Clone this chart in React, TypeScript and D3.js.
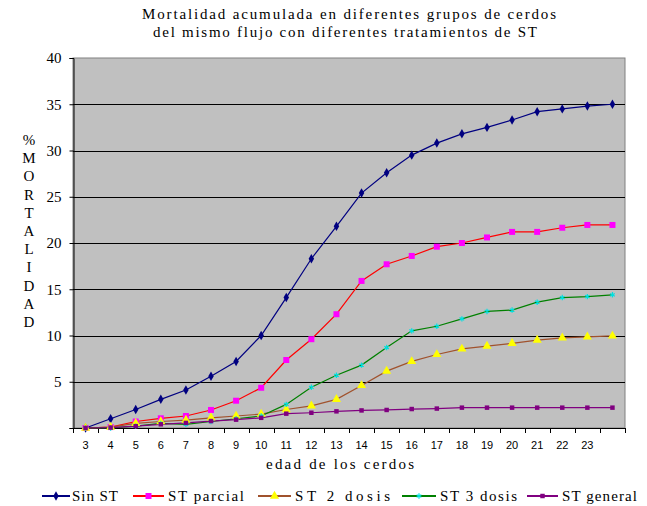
import { useEffect, useRef } from "react";
import * as d3 from "d3";

// edad de los cerdos (semanas)
const ages = [3, 4, 5, 6, 7, 8, 9, 10, 11, 12, 13, 14, 15, 16, 17, 18, 19, 20, 21, 22, 23, 24];
const ageLabels = ["3", "4", "5", "6", "7", "8", "9", "10", "11", "12", "13", "14", "15", "16", "17", "18", "19", "20", "21", "22", "23", ""];

const sinST = [0, 1.0, 2.0, 3.1, 4.1, 5.6, 7.2, 10.0, 14.1, 18.3, 21.8, 25.4, 27.6, 29.5, 30.8, 31.8, 32.5, 33.3, 34.2, 34.5, 34.8, 35.0];
const stParcial = [0, 0.1, 0.7, 1.05, 1.3, 1.95, 2.95, 4.35, 7.35, 9.6, 12.3, 15.9, 17.7, 18.6, 19.6, 20.0, 20.6, 21.2, 21.2, 21.65, 21.95, 21.95];
const st2Dosis = [0, 0.1, 0.5, 0.7, 0.85, 1.1, 1.3, 1.5, 2.0, 2.4, 3.1, 4.6, 6.15, 7.2, 7.95, 8.55, 8.85, 9.15, 9.5, 9.75, 9.85, 9.95];
const st3Dosis = [0, 0, 0.2, 0.5, 0.4, 0.7, 1.0, 1.3, 2.55, 4.4, 5.7, 6.8, 8.7, 10.5, 11.0, 11.8, 12.6, 12.75, 13.6, 14.1, 14.2, 14.4];
const stGeneral = [0, 0.05, 0.2, 0.4, 0.55, 0.75, 0.9, 1.1, 1.55, 1.65, 1.8, 1.9, 1.95, 2.05, 2.1, 2.2, 2.2, 2.2, 2.2, 2.2, 2.2, 2.2];

const yTicks = [0, 5, 10, 15, 20, 25, 30, 35, 40];

const series = [
  { name: "Sin ST", values: sinST, line: "#000080", fill: "#000080", stroke: "none", symbol: d3.symbolDiamond, size: 26, lx: 42, lx2: 70, tx: 72, tw: 46 },
  { name: "ST parcial", values: stParcial, line: "#ff0000", fill: "#ff00ff", stroke: "none", symbol: d3.symbolSquare, size: 36, lx: 133, lx2: 164, tx: 168, tw: 76 },
  { name: "ST 2 dosis", values: st2Dosis, line: "#a0522d", fill: "#ffff00", stroke: "none", symbol: d3.symbolTriangle, size: 36, lx: 258, lx2: 291, tx: 295, tw: 95 },
  { name: "ST 3 dosis", values: st3Dosis, line: "#008000", fill: "none", stroke: "#00e0e0", symbol: d3.symbolAsterisk, size: 20, lx: 402, lx2: 436, tx: 440, tw: 77 },
  { name: "ST general", values: stGeneral, line: "#800080", fill: "#800080", stroke: "none", symbol: d3.symbolSquare, size: 20, lx: 527, lx2: 558, tx: 562, tw: 75 },
];

const serif = "Liberation Serif";

export default function App() {
  const svgRef = useRef<SVGSVGElement>(null);

  useEffect(() => {
    if (!svgRef.current) return;
    const svg = d3.select(svgRef.current);
    svg.selectAll("*").remove();

    const plot = { left: 73, right: 625, top: 58, bottom: 428 };

    const x = d3.scaleBand<number>().domain(ages).range([plot.left, plot.right]);
    const y = d3.scaleLinear().domain([0, 40]).range([plot.bottom, plot.top]);

    // title
    const title = svg.append("g")
      .attr("font-family", serif)
      .attr("font-size", 15)
      .attr("fill", "#000");
    title.append("text").attr("x", 142).attr("y", 19)
      .attr("textLength", 414).attr("lengthAdjust", "spacing")
      .text("Mortalidad acumulada en diferentes grupos de cerdos");
    title.append("text").attr("x", 153).attr("y", 37)
      .attr("textLength", 384).attr("lengthAdjust", "spacing")
      .text("del mismo flujo con diferentes tratamientos de ST");

    // plot area
    svg.append("rect")
      .attr("x", plot.left).attr("y", plot.top)
      .attr("width", plot.right - plot.left).attr("height", plot.bottom - plot.top)
      .attr("fill", "#c0c0c0").attr("stroke", "#808080").attr("stroke-width", 1);

    // gridlines
    svg.append("g").selectAll("line")
      .data(yTicks.filter((t) => t > 0 && t < 40))
      .join("line")
      .attr("x1", plot.left).attr("x2", plot.right)
      .attr("y1", (d) => Math.round(y(d)) + 0.5).attr("y2", (d) => Math.round(y(d)) + 0.5)
      .attr("stroke", "#000").attr("stroke-width", 1.2);

    // y axis
    const yAxis = svg.append("g")
      .attr("transform", `translate(${plot.left + 0.5},0)`)
      .call(d3.axisLeft(y).tickValues(yTicks).tickSize(4).tickFormat((d) => (d === 0 ? "" : String(d))));
    yAxis.select(".domain").attr("stroke", "#000");
    yAxis.selectAll("text")
      .attr("font-family", serif)
      .attr("font-size", 15)
      .attr("fill", "#000")
      .attr("x", -12);

    // x axis
    const bounds = ages.map((a) => x(a) as number).concat([plot.right]);
    svg.append("line")
      .attr("x1", plot.left).attr("x2", plot.right)
      .attr("y1", plot.bottom + 0.5).attr("y2", plot.bottom + 0.5)
      .attr("stroke", "#000");
    svg.append("g").selectAll("line")
      .data(bounds)
      .join("line")
      .attr("x1", (d) => Math.round(d) + 0.5).attr("x2", (d) => Math.round(d) + 0.5)
      .attr("y1", plot.bottom).attr("y2", plot.bottom + 5)
      .attr("stroke", "#000");
    svg.append("g").selectAll("text")
      .data(ages)
      .join("text")
      .attr("x", (d) => (x(d) as number) + x.bandwidth() / 2)
      .attr("y", 449)
      .attr("text-anchor", "middle")
      .attr("font-family", "Liberation Sans")
      .attr("font-size", 11)
      .attr("fill", "#000")
      .text((_, i) => ageLabels[i]);

    svg.append("text")
      .attr("x", 266).attr("y", 469)
      .attr("font-family", serif).attr("font-size", 15)
      .attr("textLength", 148).attr("lengthAdjust", "spacing")
      .text("edad de los cerdos");

    // y axis title, stacked letters
    const yTitle = "%MORTALIDAD".split("");
    svg.append("g").selectAll("text")
      .data(yTitle)
      .join("text")
      .attr("x", 29)
      .attr("y", (_, i) => 145 + i * 18.2)
      .attr("text-anchor", "middle")
      .attr("font-family", serif)
      .attr("font-size", 15)
      .attr("fill", "#000")
      .text((d) => d);

    // series
    const cx = (i: number) => (x(ages[i]) as number) + x.bandwidth() / 2;
    series.forEach((s) => {
      const line = d3.line<number>()
        .x((_, i) => cx(i))
        .y((d) => y(d));
      svg.append("path")
        .datum(s.values)
        .attr("fill", "none")
        .attr("stroke", s.line)
        .attr("stroke-width", 1.2)
        .attr("d", line);
    });
    series.forEach((s) => {
      const sym = d3.symbol().type(s.symbol).size(s.size);
      svg.append("g").selectAll("path")
        .data(s.values)
        .join("path")
        .attr("transform", (d, i) => `translate(${cx(i)},${y(d)})`)
        .attr("d", sym)
        .attr("fill", s.fill)
        .attr("stroke", s.stroke)
        .attr("stroke-width", 1.2);
    });

    // legend
    const legend = svg.append("g");
    series.forEach((s) => {
      const ly = 496;
      legend.append("line")
        .attr("x1", s.lx).attr("x2", s.lx2)
        .attr("y1", ly).attr("y2", ly)
        .attr("stroke", s.line).attr("stroke-width", 2);
      legend.append("path")
        .attr("transform", `translate(${(s.lx + s.lx2) / 2},${ly})`)
        .attr("d", d3.symbol().type(s.symbol).size(s.size)())
        .attr("fill", s.fill)
        .attr("stroke", s.stroke)
        .attr("stroke-width", 1.2);
      legend.append("text")
        .attr("x", s.tx).attr("y", 501)
        .attr("font-family", serif).attr("font-size", 15)
        .attr("textLength", s.tw).attr("lengthAdjust", "spacing")
        .attr("fill", "#000")
        .text(s.name);
    });
  }, []);

  return (
    <svg
      ref={svgRef}
      width={647}
      height={506}
      style={{ position: "absolute", left: 0, top: 0, background: "#fff" }}
    />
  );
}
